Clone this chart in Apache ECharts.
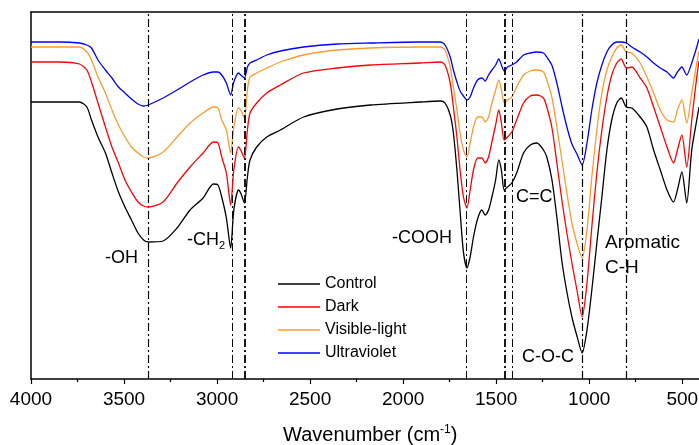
<!DOCTYPE html>
<html>
<head>
<meta charset="utf-8">
<title>FTIR</title>
<script src="https://cdn.jsdelivr.net/npm/echarts@6.0.0/dist/echarts.min.js"></script>
<style>
  html, body { margin: 0; padding: 0; background: #fff; }
  #chart { width: 699px; height: 445px; }
</style>
</head>
<body>
<div id="chart"></div>
<script>
// wavenumber (cm-1) of each sample
const wavenumbers = [4000, 3850, 3740, 3700, 3675, 3640, 3600, 3565, 3530, 3495, 3460, 3425, 3395, 3370, 3290,
  3215, 3145, 3075, 3020, 2995, 2975, 2950, 2927, 2910, 2885, 2873, 2853, 2837, 2823, 2787, 2733, 2660, 2535,
  2355, 2175, 1910, 1800, 1775, 1747, 1730, 1711, 1694, 1676, 1657, 1640, 1622, 1600, 1577, 1559, 1541, 1523,
  1503, 1486, 1472, 1457, 1439, 1416, 1390, 1353, 1317, 1281, 1246, 1228, 1201, 1174, 1147, 1120, 1093, 1066,
  1038, 1012, 986, 959, 932, 905, 879, 852, 828, 801, 771, 726, 690, 654, 618, 582, 547, 526, 502, 476, 449, 422, 410]

// transmittance, arbitrary units (curves are offset)
const control = [277, 277, 277, 272, 259, 242, 226, 206, 187, 172, 159, 146, 139, 137, 138,
  151, 169, 181, 195, 194, 182, 161, 131, 169, 189, 186, 176, 202, 219, 232, 242, 249, 262,
  270, 274, 277, 278, 276, 264, 246, 209, 168, 127, 111, 122, 142, 160, 169, 164, 169, 182,
  199, 219, 209, 189, 192, 196, 206, 226, 234, 236, 229, 222, 200, 162, 118, 87, 62, 43,
  26, 49, 89, 136, 182, 229, 259, 276, 281, 272, 271, 262, 252, 229, 209, 189, 177, 189, 207, 176, 229, 259, 272]
const dark = [317, 317, 315, 309, 297, 276, 252, 232, 216, 199, 187, 177, 173, 172, 177,
  196, 212, 226, 237, 236, 222, 206, 174, 209, 232, 229, 221, 249, 266, 276, 286, 294, 306,
  311, 314, 316, 317, 314, 296, 272, 242, 209, 182, 171, 189, 209, 221, 221, 216, 222, 237,
  254, 269, 256, 239, 242, 247, 259, 276, 283, 284, 281, 272, 252, 216, 179, 146, 116, 89,
  62, 96, 152, 206, 249, 282, 304, 316, 320, 311, 312, 301, 291, 272, 252, 232, 216, 229, 244, 212, 259, 302, 318]
const visibleLight = [332, 332, 332, 327, 319, 302, 286, 269, 254, 242, 232, 226, 222, 221, 227,
  242, 256, 266, 272, 271, 259, 249, 226, 252, 271, 269, 261, 289, 302, 306, 311, 317, 324,
  329, 331, 332, 332, 329, 312, 292, 269, 246, 229, 222, 236, 252, 262, 262, 257, 262, 276,
  289, 299, 289, 276, 279, 282, 292, 304, 308, 309, 307, 299, 282, 252, 219, 186, 156, 136,
  121, 149, 202, 249, 286, 309, 322, 331, 334, 327, 326, 316, 302, 286, 269, 259, 257, 269, 279, 256, 286, 316, 328]
const ultraviolet = [337, 337, 336, 334, 331, 319, 309, 301, 292, 286, 280, 275, 273, 274, 281,
  289, 297, 304, 307, 307, 304, 296, 284, 297, 306, 304, 301, 312, 316, 319, 324, 328, 332,
  335, 336, 337, 337, 334, 322, 309, 297, 288, 283, 279, 282, 291, 299, 301, 298, 304, 309,
  314, 320, 314, 308, 312, 314, 317, 324, 326, 327, 326, 322, 314, 296, 273, 252, 235, 225,
  214, 236, 269, 296, 314, 327, 334, 337, 337, 336, 332, 327, 322, 316, 311, 307, 301, 307, 312, 304, 316, 332, 340]

const seriesNames = ['Control', 'Dark', 'Visible-light', 'Ultraviolet']
const bandPositions = [3370, 2920, 2850, 1660, 1455, 1415, 1035, 800]
const majorTicks = [4000, 3500, 3000, 2500, 2000, 1500, 1000, 500]
const minorTicks = [3750, 3250, 2750, 2250, 1750, 1250, 750]

const colors = ['#000000', '#ff0000', '#ff9a2e', '#0000ff']
const bandWidths = [1.2, 1, 1.8, 1, 1.8, 1, 1.2, 1.2]
const font = 'Liberation Sans, Arial, sans-serif'

const chart = echarts.init(document.getElementById('chart'))

const allValues = [control, dark, visibleLight, ultraviolet]
const series = allValues.map((vals, k) => {
  const s = {
    name: seriesNames[k],
    type: 'line',
    data: wavenumbers.map((w, i) => [w, vals[i]]),
    xAxisIndex: 0,
    symbol: 'none',
    smooth: 0.25,
    animation: false,
    lineStyle: { color: colors[k], width: 1.3 },
    itemStyle: { color: colors[k] },
    z: 3 + (3 - k)
  }
  // dash-dot lines marking the absorption bands
  if (k === 0) {
    s.markLine = {
      silent: true,
      symbol: ['none', 'none'],
      label: { show: false },
      animation: false,
      data: bandPositions.map((p, i) => ({
        xAxis: p,
        lineStyle: { color: '#000', width: bandWidths[i], type: [8, 3, 2, 3] }
      }))
    }
  }
  return s
})

const xBase = { type: 'value', min: 410, max: 4000, inverse: true, splitLine: { show: false } }

const option = {
  animation: false,
  grid: { left: 31, right: 0, top: 12, bottom: 66, outerBoundsMode: 'none', containLabel: false },
  xAxis: [
    Object.assign({}, xBase, {
      position: 'bottom',
      axisLine: { lineStyle: { color: '#000', width: 1.5 } },
      axisTick: { customValues: majorTicks, length: 5, lineStyle: { color: '#000', width: 1.2 } },
      axisLabel: {
        customValues: majorTicks, margin: 11, color: '#000', fontSize: 19, fontFamily: font,
        formatter: v => String(v)
      }
    }),
    Object.assign({}, xBase, {
      position: 'top',
      axisLine: { lineStyle: { color: '#000', width: 1.5 } },
      axisTick: { show: false },
      axisLabel: { show: false }
    }),
    Object.assign({}, xBase, {
      position: 'bottom',
      axisLine: { show: false },
      axisTick: { customValues: minorTicks, length: 3, lineStyle: { color: '#000', width: 1.2 } },
      axisLabel: { show: false }
    })
  ],
  yAxis: {
    type: 'value', min: 0, max: 367,
    axisLine: { show: true, lineStyle: { color: '#000', width: 1.5 } },
    axisTick: { show: false },
    axisLabel: { show: false },
    splitLine: { show: false }
  },
  legend: {
    data: seriesNames,
    orient: 'vertical',
    left: 273,
    top: 271,
    icon: 'rect',
    itemWidth: 42,
    itemHeight: 1.5,
    itemGap: 7,
    textStyle: { color: '#000', fontSize: 16, fontFamily: font, lineHeight: 16 }
  },
  graphic: [
    { type: 'text', left: 105, top: 249, style: { text: '-OH', font: '18px ' + font, fill: '#000' } },
    {
      type: 'text', left: 187, top: 231,
      style: {
        text: '{a|-CH}{s|2}', fill: '#000',
        rich: { a: { fontSize: 18, fontFamily: font }, s: { fontSize: 11, fontFamily: font, padding: [12, 0, 0, 0] } }
      }
    },
    { type: 'text', left: 392, top: 229, style: { text: '-COOH', font: '18px ' + font, fill: '#000' } },
    { type: 'text', left: 516, top: 188, style: { text: 'C=C', font: '18px ' + font, fill: '#000' } },
    { type: 'text', left: 605, top: 230, style: { text: 'Aromatic\nC-H', font: '19px ' + font, fill: '#000', lineHeight: 25 } },
    { type: 'text', left: 522, top: 348, style: { text: 'C-O-C', font: '18px ' + font, fill: '#000' } },
    {
      type: 'text', left: 283, top: 424,
      style: {
        text: '{n|Wavenumber (cm}{s|-1}{n|)}', fill: '#000',
        rich: { n: { fontSize: 20, fontFamily: font }, s: { fontSize: 12, fontFamily: font, padding: [0, 0, 10, 0] } }
      }
    }
  ],
  series: series
}

chart.setOption(option)
</script>
</body>
</html>
